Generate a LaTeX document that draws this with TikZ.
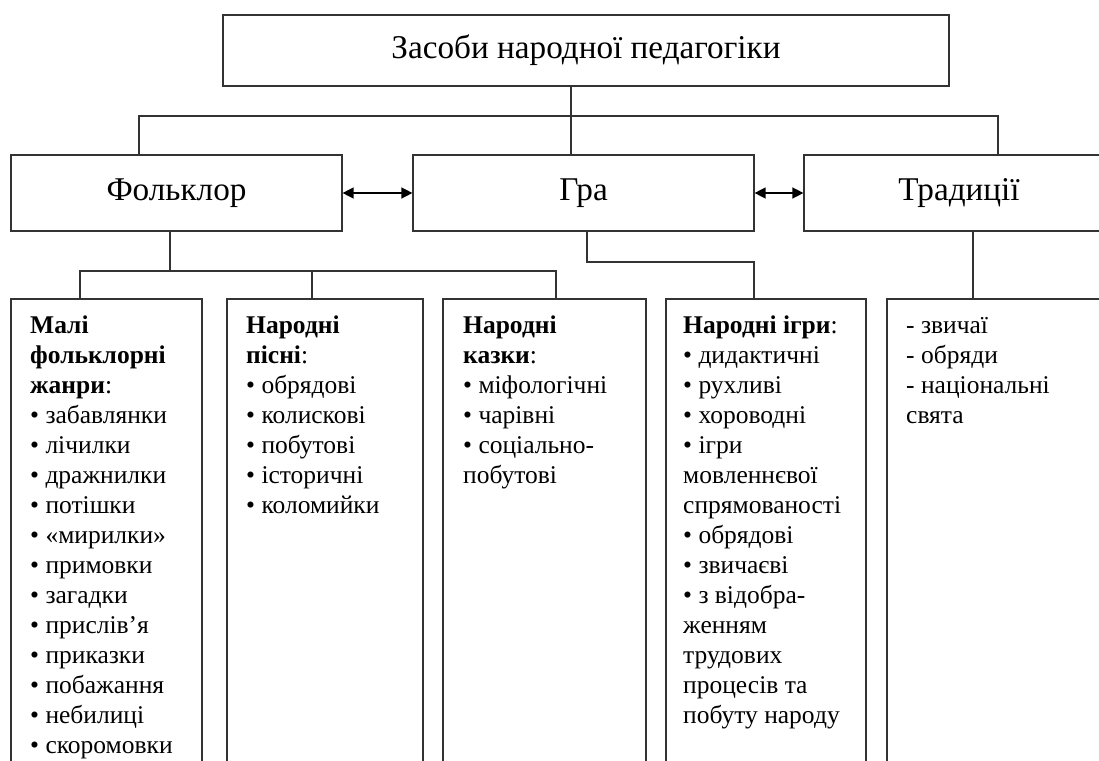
\documentclass[tikz,border=0pt]{standalone}
\usepackage{fontspec}
\setmainfont{Liberation Serif}
\usetikzlibrary{arrows.meta}
\tikzset{
  frame/.style={draw=black!80, line width=1.2pt, fill=none, inner sep=0pt},
  bigtext/.style={font=\fontsize{33.2}{38}\selectfont},
  midtext/.style={font=\fontsize{33.2}{38}\selectfont},
  listtext/.style={font=\fontsize{25.5}{30}\selectfont, align=left, inner sep=0pt, anchor=base west},
  link/.style={draw=black!80, line width=1.2pt},
  dblarrow/.style={draw=black, line width=1.4pt, {Triangle[length=11pt,width=11pt]}-{Triangle[length=11pt,width=11pt]}}
}
\begin{document}
\begin{tikzpicture}[x=1pt,y=-1pt]
\useasboundingbox (0,0) rectangle (1099,760);
% level 1
\node[frame, bigtext, minimum width=726pt, minimum height=71pt] (top) at (586,50.5) {Засоби народної педагогіки};
% level 2
\node[frame, midtext, minimum width=331pt, minimum height=76pt] (folk) at (176.5,193) {Фольклор};
\node[frame, midtext, minimum width=341pt, minimum height=76pt] (gra) at (583.5,193) {Гра};
\node[frame, midtext, minimum width=310pt, minimum height=76pt] (trad) at (959,193) {Традиції};
% level 3 frames
\node[frame, minimum width=191pt, minimum height=501pt] (box1) at (106.5,549.5) {};
\node[frame, minimum width=196pt, minimum height=501pt] (box2) at (325,549.5) {};
\node[frame, minimum width=203pt, minimum height=501pt] (box3) at (544.5,549.5) {};
\node[frame, minimum width=200pt, minimum height=501pt] (box4) at (766,549.5) {};
\node[frame, minimum width=233pt, minimum height=501pt] (box5) at (1003.5,549.5) {};
% level 3 texts (base anchor = baseline of last line; first baseline at y=333, step 30)
\node[listtext] (t1) at (30,753) {\textbf{Малі}\\\textbf{фольклорні}\\\textbf{жанри}:\\• забавлянки\\• лічилки\\• дражнилки\\• потішки\\• «мирилки»\\• примовки\\• загадки\\• прислів’я\\• приказки\\• побажання\\• небилиці\\• скоромовки};
\node[listtext] (t2) at (246,513) {\textbf{Народні}\\\textbf{пісні}:\\• обрядові\\• колискові\\• побутові\\• історичні\\• коломийки};
\node[listtext] (t3) at (463,483) {\textbf{Народні}\\\textbf{казки}:\\• міфологічні\\• чарівні\\• соціально-\\побутові};
\node[listtext] (t4) at (683,723) {\textbf{Народні ігри}:\\• дидактичні\\• рухливі\\• хороводні\\• ігри\\мовленнєвої\\спрямованості\\• обрядові\\• звичаєві\\• з відобра-\\женням\\трудових\\процесів та\\побуту народу};
\node[listtext] (t5) at (906,423) {- звичаї\\- обряди\\- національні\\свята};
% junction coordinates
\coordinate (busL) at (139,116);
\coordinate (busM) at (571,116);
\coordinate (busR) at (998,116);
\coordinate (fd) at (170,271);
\coordinate (fL) at (80,271);
\coordinate (fM) at (312,271);
\coordinate (fR) at (556,271);
\coordinate (g1) at (587,262);
\coordinate (g2) at (754,262);
\coordinate (tr) at (973,262);
% connectors
\draw[link] (busM |- top.south) -- (busM |- gra.north);
\draw[link] (busL |- folk.north) -- (busL) -- (busR) -- (busR |- trad.north);
\draw[link] (fd |- folk.south) -- (fd);
\draw[link] (fL |- box1.north) -- (fL) -- (fR) -- (fR |- box3.north);
\draw[link] (fM) -- (fM |- box2.north);
\draw[link] (g1 |- gra.south) -- (g1) -- (g2) -- (g2 |- box4.north);
\draw[link] (tr |- trad.south) -- (tr |- box5.north);
\draw[dblarrow] (folk.east) -- (gra.west);
\draw[dblarrow] (gra.east) -- (trad.west);
\end{tikzpicture}
\end{document}
